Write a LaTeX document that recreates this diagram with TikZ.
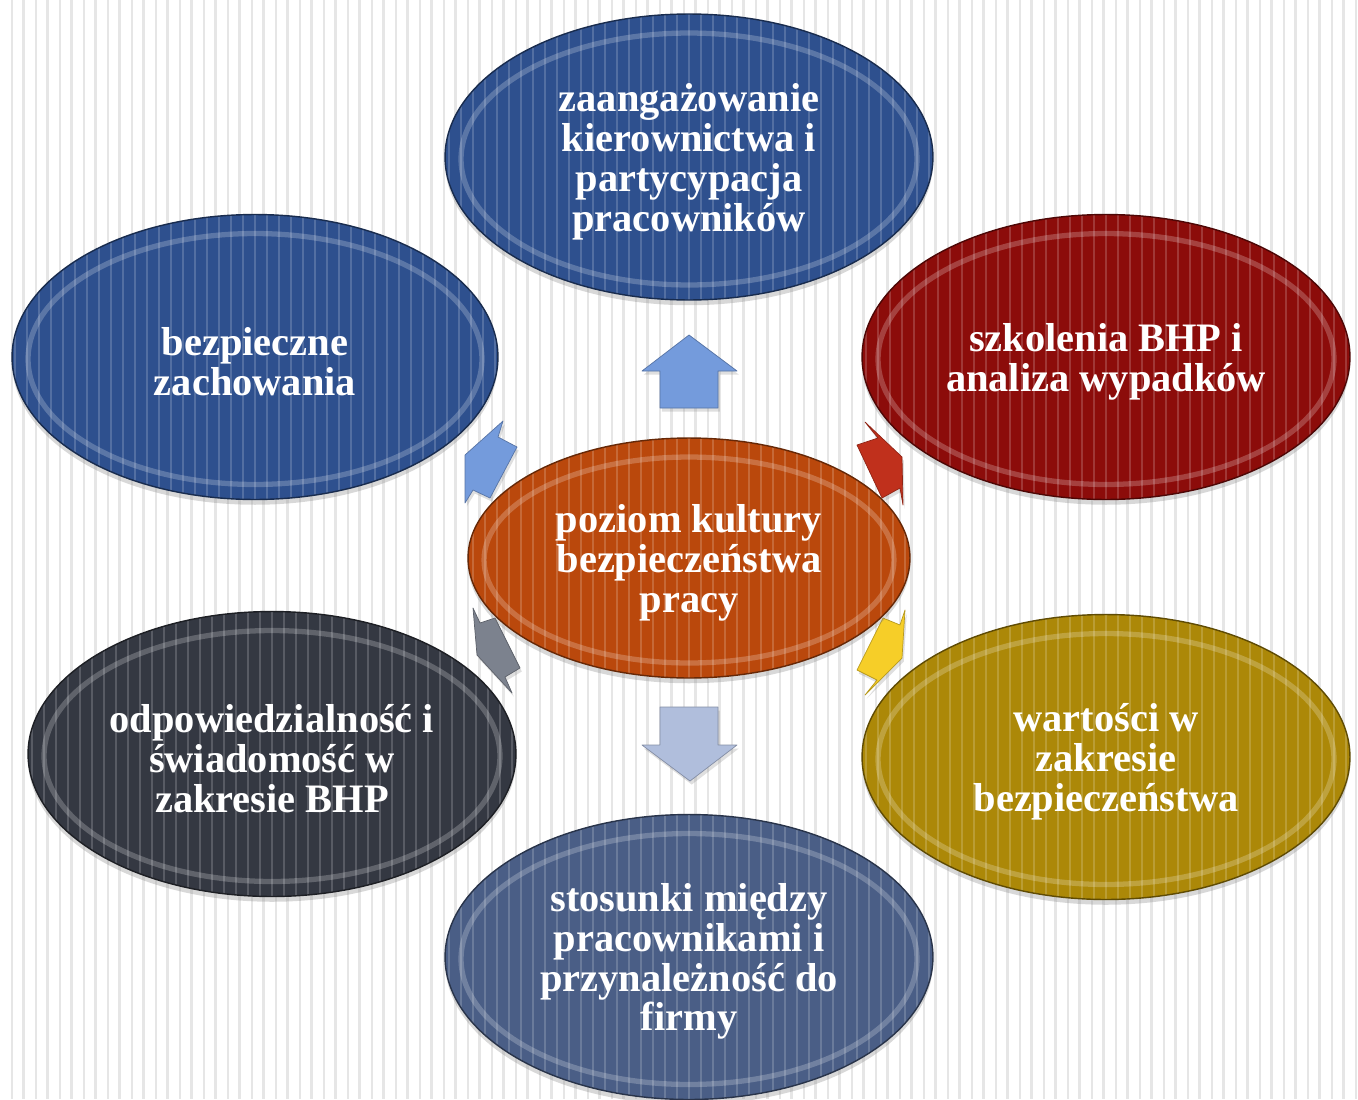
\documentclass[tikz,border=0pt]{standalone}
\usepackage{fontspec}
\setmainfont{Liberation Serif}
\usetikzlibrary{shapes.geometric,shadows}

\definecolor{niebieski}{RGB}{46,80,142}
\definecolor{czerwony}{RGB}{140,12,10}
\definecolor{pomarancz}{RGB}{186,72,12}
\definecolor{grafit}{RGB}{52,56,66}
\definecolor{zloty}{RGB}{172,136,8}
\definecolor{lupek}{RGB}{74,94,134}
\definecolor{paski}{RGB}{230,230,230}
% kolory strzalek
\definecolor{sNieb}{RGB}{116,155,220}
\definecolor{sJasny}{RGB}{176,190,220}
\definecolor{sCzerw}{RGB}{192,48,28}
\definecolor{sSzary}{RGB}{124,130,142}
\definecolor{sZolty}{RGB}{246,206,40}

\newcommand\napis{\bfseries\fontsize{23}{22.7}\selectfont}
\newcommand\gora{\rule{0pt}{0.74cm}}

\tikzset{
  babel/.style n args={3}{ellipse, draw=#1!55!black, line width=0.8pt, fill=#1,
    text=white, minimum width=#2, minimum height=#3, inner sep=0pt, align=center,
    font=\napis,
    drop shadow={shadow xshift=0pt, shadow yshift=-3pt, opacity=0.3},
    path picture={
      \foreach \k in {-22,...,22}
        \draw[white, opacity=0.18, line width=0.9pt]
          ([xshift=\k*0.24cm]path picture bounding box.south) --
          ([xshift=\k*0.24cm]path picture bounding box.north);
      \draw[white, opacity=0.22, line width=3pt] ([yshift=-0.04cm]path picture bounding box.center)
        ellipse [x radius=#2/2-0.32cm, y radius=#3/2-0.34cm];
    }},
  strzalka/.style={fill=#1, draw=#1!75!black, line width=0.4pt, line join=round,
    drop shadow={shadow xshift=1pt, shadow yshift=-2pt, opacity=0.25}},
}

\begin{document}
\begin{tikzpicture}[x=0.02cm, y=-0.02cm]
  \useasboundingbox (0,0) rectangle (1358,1099);
  % Tlo w pionowe paski
  \fill[white] (0,0) rectangle (1358,1099);
  \foreach \x in {12,36,...,1358}
    \draw[paski, line width=0.6pt] (\x,0) -- (\x,1099);
  \foreach \x in {23.5,47.5,...,1358}
    \draw[paski, line width=1.2pt] (\x,0) -- (\x,1099);

  % Strzalki od srodka
  \draw[strzalka=sNieb]
    (660,408) -- (660,371) -- (642,371) -- (689,335) -- (737,371) -- (718,371) -- (718,408) -- cycle;
  \draw[strzalka=sJasny]
    (660,707) -- (718,707) -- (718,745) -- (737,745) -- (690,781) -- (642,745) -- (660,745) -- cycle;
  \draw[strzalka=sNieb]
    (465,455) -- (503,421) -- (498,437) -- (517,447) -- (490,498) -- (473,490) -- (465,503) -- cycle;
  \draw[strzalka=sCzerw]
    (865,422) -- (878,438) -- (857,445) -- (882,498) -- (900,488) -- (903,505) -- (902,457) -- cycle;
  \draw[strzalka=sSzary]
    (473,608) -- (480,623) -- (495,618) -- (520,668) -- (505,677) -- (512,693) -- (477,655) -- cycle;
  \draw[strzalka=sZolty]
    (905,610) -- (900,625) -- (883,618) -- (857,670) -- (877,680) -- (865,695) -- (902,658) -- cycle;

  % Elipsy
  \node[babel={niebieski}{9.76cm}{5.72cm}] (zaang) at (689,157)
    {\gora zaangażowanie\\kierownictwa i\\partycypacja\\pracowników};
  \node[babel={niebieski}{9.72cm}{5.70cm}] (bezp) at (255,357)
    {\gora bezpieczne\\zachowania};
  \node[babel={czerwony}{9.76cm}{5.70cm}] (szkol) at (1106,357)
    {\gora szkolenia BHP i\\analiza wypadków};
  \node[babel={pomarancz}{8.84cm}{4.80cm}] (poziom) at (689,558)
    {\gora poziom kultury\\bezpieczeństwa\\pracy};
  \node[babel={grafit}{9.76cm}{5.70cm}] (odpow) at (272,754)
    {\gora odpowiedzialność i\\świadomość w\\zakresie BHP};
  \node[babel={zloty}{9.76cm}{5.70cm}] (wart) at (1106,757)
    {\gora wartości w\\zakresie\\bezpieczeństwa};
  \node[babel={lupek}{9.76cm}{5.70cm}] (stos) at (689,957)
    {\gora stosunki między\\pracownikami i\\przynależność do\\firmy};
\end{tikzpicture}
\end{document}
